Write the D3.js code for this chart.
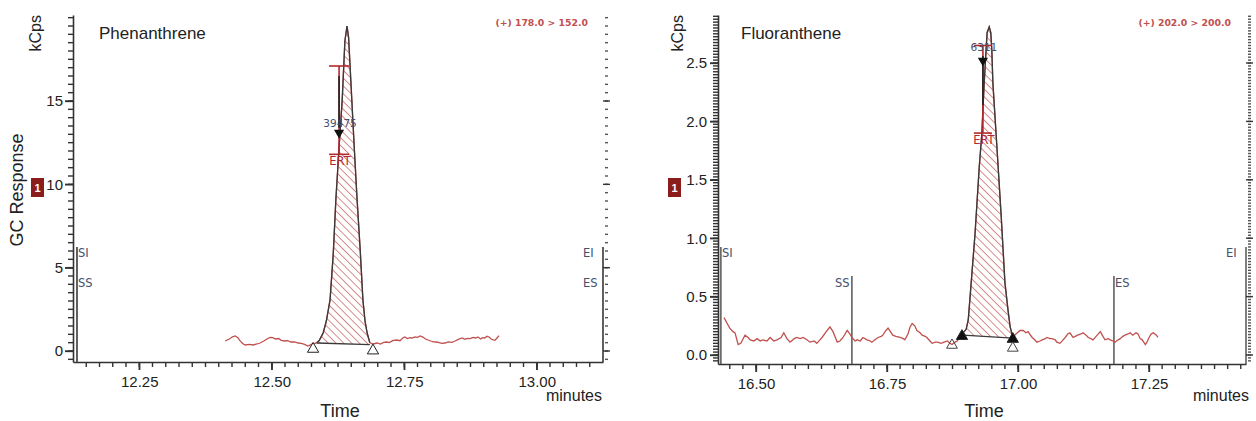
<!DOCTYPE html>
<html><head><meta charset="utf-8">
<script src="https://cdn.jsdelivr.net/npm/d3@7"></script>
<style>
body{margin:0;background:#fff;}
svg{display:block;font-family:"Liberation Sans",Arial,sans-serif;}
</style></head><body>
<svg id="c" width="1256" height="421"></svg>
<script>
// ---------------- DATA ----------------
// Phenanthrene (+) 178.0 > 152.0
const phenTime = [12.412,12.420,12.426,12.431,12.436,12.440,12.445,12.450,12.458,12.465,12.472,12.478,12.485,12.491,12.497,12.502,12.507,12.513,12.518,12.524,12.530,12.536,12.543,12.550,12.556,12.562,12.568,12.574,12.578,12.582,12.585,12.590,12.597,12.603,12.610,12.616,12.621,12.627,12.633,12.638,12.642,12.645,12.651,12.656,12.661,12.667,12.672,12.676,12.680,12.685,12.690,12.695,12.699,12.705,12.711,12.717,12.722,12.728,12.736,12.742,12.747,12.751,12.756,12.761,12.765,12.770,12.775,12.780,12.786,12.790,12.795,12.800,12.805,12.810,12.816,12.821,12.827,12.833,12.840,12.846,12.852,12.859,12.864,12.869,12.874,12.880,12.885,12.889,12.894,12.898,12.902,12.906,12.910,12.914,12.918,12.921,12.925,12.929];
const phenResp = [0.60,0.72,0.85,0.90,0.80,0.62,0.45,0.36,0.40,0.36,0.42,0.48,0.60,0.72,0.82,0.80,0.72,0.75,0.64,0.60,0.62,0.54,0.55,0.48,0.46,0.40,0.30,0.38,0.45,0.46,0.50,0.65,1.08,1.80,3.07,5.80,9.10,12.2,15.1,18.6,19.5,18.8,15.1,12.0,9.10,6.00,3.07,1.80,1.08,0.50,0.42,0.45,0.48,0.42,0.52,0.54,0.50,0.62,0.66,0.62,0.78,0.84,0.75,0.80,0.78,0.85,0.82,0.90,0.82,0.72,0.66,0.60,0.55,0.54,0.50,0.46,0.48,0.55,0.52,0.60,0.70,0.78,0.70,0.76,0.74,0.82,0.78,0.84,0.72,0.80,0.78,0.88,0.84,0.72,0.66,0.64,0.78,0.92];
const phenPeakWindow = [12.585, 12.685];
const phenBaseline = [0.48, 0.38];
const phenMarkTimes = [12.578, 12.691];
const phenErtTime = 12.627;
const phenErtRange = [17.1, 11.8];
const phenApex = [12.627, 13.1];
const phenApexLabel = "39475";
const phenXTicks = [12.25, 12.50, 12.75, 13.00];
const phenXLabels = ["12.25", "12.50", "12.75", "13.00"];
const phenYTicks = [0, 5, 10, 15];
const phenYLabels = ["0", "5", "10", "15"];
const phenEventLabels = ["SI", "SS", "EI", "ES"];
const phenEventTimes = [12.1325, 12.1325, 13.125, 13.125];

// Fluoranthene (+) 202.0 > 200.0
const fluorTime = [16.439,16.445,16.450,16.456,16.460,16.466,16.471,16.479,16.485,16.489,16.496,16.502,16.508,16.513,16.521,16.527,16.534,16.540,16.548,16.553,16.559,16.565,16.573,16.578,16.584,16.590,16.597,16.603,16.611,16.616,16.622,16.626,16.634,16.641,16.647,16.655,16.660,16.666,16.674,16.679,16.683,16.689,16.693,16.699,16.704,16.712,16.718,16.721,16.727,16.733,16.739,16.742,16.748,16.752,16.758,16.761,16.767,16.775,16.781,16.784,16.790,16.794,16.798,16.803,16.807,16.813,16.817,16.823,16.826,16.832,16.836,16.842,16.847,16.853,16.859,16.865,16.870,16.874,16.880,16.884,16.889,16.895,16.901,16.905,16.908,16.918,16.926,16.931,16.935,16.939,16.941,16.945,16.948,16.950,16.952,16.960,16.968,16.975,16.981,16.985,16.990,16.996,17.004,17.010,17.015,17.019,17.027,17.032,17.036,17.042,17.046,17.052,17.055,17.061,17.065,17.071,17.074,17.080,17.086,17.090,17.095,17.099,17.105,17.109,17.114,17.120,17.124,17.130,17.134,17.139,17.143,17.149,17.157,17.162,17.166,17.172,17.176,17.181,17.185,17.191,17.195,17.200,17.204,17.210,17.214,17.219,17.225,17.229,17.233,17.237,17.243,17.246,17.250,17.254,17.258,17.264,17.267];
const fluorResp = [0.32,0.27,0.23,0.20,0.19,0.09,0.10,0.17,0.15,0.13,0.12,0.14,0.12,0.13,0.12,0.15,0.12,0.13,0.15,0.19,0.14,0.11,0.14,0.15,0.14,0.15,0.13,0.11,0.12,0.10,0.13,0.15,0.20,0.24,0.20,0.11,0.12,0.15,0.21,0.18,0.15,0.12,0.13,0.12,0.15,0.13,0.12,0.11,0.13,0.15,0.16,0.17,0.21,0.23,0.19,0.17,0.16,0.15,0.14,0.13,0.18,0.24,0.27,0.25,0.21,0.19,0.17,0.16,0.15,0.12,0.10,0.11,0.11,0.10,0.11,0.12,0.10,0.09,0.11,0.12,0.15,0.19,0.22,0.30,0.47,1.04,1.61,1.90,2.29,2.61,2.76,2.81,2.76,2.61,2.33,1.76,1.18,0.62,0.38,0.24,0.15,0.18,0.21,0.21,0.19,0.20,0.15,0.13,0.11,0.12,0.13,0.14,0.15,0.14,0.14,0.13,0.11,0.10,0.13,0.15,0.18,0.19,0.15,0.16,0.17,0.18,0.19,0.17,0.15,0.14,0.13,0.16,0.20,0.16,0.13,0.14,0.13,0.12,0.11,0.13,0.14,0.16,0.17,0.18,0.19,0.17,0.19,0.18,0.14,0.13,0.09,0.11,0.15,0.18,0.19,0.17,0.15];
const fluorPeakWindow = [16.895, 16.990];
const fluorBaseline = [0.17, 0.145];
const fluorMarkTimes = [16.893, 16.990];
const fluorCrossTimes = [16.874, 16.990];
const fluorErtTime = 16.933;
const fluorErtRange = [2.65, 1.90];
const fluorApex = [16.933, 2.52];
const fluorApexLabel = "6311";
const fluorXTicks = [16.50, 16.75, 17.00, 17.25];
const fluorXLabels = ["16.50", "16.75", "17.00", "17.25"];
const fluorYTicks = [0, 0.5, 1.0, 1.5, 2.0, 2.5];
const fluorYLabels = ["0.0", "0.5", "1.0", "1.5", "2.0", "2.5"];
const fluorEventLabels = ["SI", "SS", "ES", "EI"];
const fluorEventTimes = [16.433, 16.683, 17.183, 17.435];

// ---------------- DRAW ----------------
const svg = d3.select("#c");
const RED = "#c0504d", ERTRED = "#b3282d", AX = "#333", LBL = "#44506e";

const defs = svg.append("defs");
defs.append("pattern").attr("id","hatch").attr("patternUnits","userSpaceOnUse")
  .attr("width",5.5).attr("height",5.5).attr("patternTransform","rotate(-45)")
  .append("path").attr("d","M0,0V5.5")
  .attr("stroke",RED).attr("stroke-width",1.3);

// tick marks as small filled rects, positioned by the scales
function ticks(g, scale, values, orient, pos, len, color, w){
  g.append("g").selectAll("rect").data(values).join("rect")
    .attr("x", d => orient === "v" ? Math.min(pos, pos + len) : scale(d) - w/2)
    .attr("y", d => orient === "v" ? scale(d) - w/2 : Math.min(pos, pos + len))
    .attr("width", orient === "v" ? Math.abs(len) : w)
    .attr("height", orient === "v" ? w : Math.abs(len))
    .attr("fill", color);
}

function drawPanel(o){
  const x = d3.scaleLinear().domain(o.xDomain).range([o.left, o.right]);
  const y = d3.scaleLinear().domain(o.yDomain).range([o.bottom, o.top]);
  const g = svg.append("g");
  const data = o.time.map((t,i)=>({t, v:o.resp[i]}));

  const styleAxis = s => {
    s.selectAll("path.domain").attr("stroke",AX).attr("stroke-width",1.6);
    s.selectAll(".tick line").attr("stroke",AX).attr("stroke-width",1.3);
    s.selectAll("text").attr("fill","#222").attr("font-size",15).attr("font-family","Liberation Sans, Arial, sans-serif");
  };
  g.append("g").attr("transform",`translate(0,${o.bottom})`)
    .call(d3.axisBottom(x).tickValues(o.xTicks).tickFormat((d,i)=>o.xLabels[i]).tickSize(8).tickPadding(6).tickSizeOuter(0))
    .call(styleAxis);
  g.append("g").attr("transform",`translate(${o.left},0)`)
    .call(d3.axisLeft(y).tickValues(o.yTicks).tickFormat((d,i)=>o.yLabels[i]).tickSize(8).tickPadding(o.yPad).tickSizeOuter(0))
    .call(styleAxis);

  // event lines
  o.eventLabels.forEach((lab,i)=>{
    const ex = x(o.eventTimes[i]);
    g.append("line").attr("x1",ex).attr("x2",ex).attr("y1",o.eventTop[i]).attr("y2",o.bottom)
      .attr("stroke","#555").attr("stroke-width",1.5);
    g.append("text").attr("x",ex+o.eventDx[i]).attr("y",o.eventLabelY[i]).attr("dy","0.35em")
      .attr("font-family","DejaVu Sans, sans-serif").attr("font-size",11.5).attr("fill",LBL).text(lab);
  });

  // hatched peak area
  const [ps,pe] = o.peakWindow;
  const baseAt = d3.scaleLinear().domain(o.peakWindow).range(o.baseline);
  const pk = data.filter(d=>d.t>=ps-1e-9 && d.t<=pe+1e-9);
  g.append("path").datum(pk).attr("fill","url(#hatch)")
    .attr("d", d3.area().x(d=>x(d.t)).y0(d=>y(baseAt(d.t))).y1(d=>y(d.v)));
  const line = d3.line().x(d=>x(d.t)).y(d=>y(d.v));
  g.append("path").datum(data).attr("fill","none").attr("stroke",RED).attr("stroke-width",1.3).attr("d",line);
  g.append("path").datum(pk).attr("fill","none").attr("stroke","#3a3a3a").attr("stroke-width",1.3).attr("d",line);
  g.append("line").attr("x1",x(ps)).attr("x2",x(pe)).attr("y1",y(o.baseline[0])).attr("y2",y(o.baseline[1]))
    .attr("stroke","#3a3a3a").attr("stroke-width",1.3);

  // markers
  const tri = d3.symbol().type(d3.symbolTriangle).size(55);
  o.markTimes.forEach(t=>{
    const bx = x(t), by = y(baseAt(Math.min(Math.max(t,ps),pe)));
    g.append("path").attr("d",tri()).attr("transform",`translate(${bx},${by+o.markDy})`)
      .attr("fill",o.markFill).attr("stroke","#222").attr("stroke-width",1);
  });
  (o.crossTimes||[]).forEach(t=>{
    const bx = x(t), by = y(baseAt(Math.min(Math.max(t,ps),pe)));
    const cy = by + 10;
    g.append("path").attr("d",d3.symbol().type(d3.symbolTriangle).size(50)()).attr("transform",`translate(${bx},${cy})`)
      .attr("fill","none").attr("stroke","#444").attr("stroke-width",1);
    g.append("path").attr("d",d3.symbol().type(d3.symbolTimes).size(60)()).attr("transform",`translate(${bx},${cy+1})`)
      .attr("fill","#444");
  });

  // ERT bracket
  const ex = x(o.ertTime), et = y(o.ertRange[0]), eb = y(o.ertRange[1]);
  g.append("line").attr("x1",ex).attr("x2",ex).attr("y1",et).attr("y2",eb).attr("stroke",ERTRED).attr("stroke-width",1.6);
  [et,eb].forEach(yy=>g.append("line").attr("x1",ex-o.capW).attr("x2",ex+o.capW).attr("y1",yy).attr("y2",yy)
      .attr("stroke",ERTRED).attr("stroke-width",1.6));
  g.append("line").attr("x1",ex).attr("x2",ex).attr("y1",y(o.blackSeg[0])).attr("y2",y(o.blackSeg[1]))
    .attr("stroke","#222").attr("stroke-width",1.6);
  g.append("text").attr("x",ex+1).attr("y",eb+11).attr("text-anchor","middle")
    .attr("font-family","DejaVu Sans, sans-serif").attr("font-size",11.5).attr("fill",ERTRED).text("ERT");
  const ax = x(o.apex[0]), ay = y(o.apex[1]);
  g.append("path").attr("d",d3.symbol().type(d3.symbolTriangle).size(45)()).attr("transform",`translate(${ax},${ay}) rotate(180)`)
    .attr("fill","#111");
  g.append("text").attr("x",ax+1).attr("y",ay-o.apexLabelDy).attr("text-anchor","middle")
    .attr("font-family","DejaVu Sans, sans-serif").attr("font-size",10.5).attr("fill",LBL).text(o.apexLabel);

  // texts
  g.append("text").attr("x",o.right-15).attr("y",26).attr("text-anchor","end")
    .attr("font-family","DejaVu Sans, sans-serif").attr("font-weight","bold").attr("font-size",9.3).attr("fill",RED).text(o.ion);
  g.append("text").attr("x",o.left+o.nameDx).attr("y",39).attr("font-size",17).attr("fill","#222").text(o.name);
  g.append("text").attr("transform",`translate(${o.left-o.kcpsDx},15) rotate(-90)`).attr("text-anchor","end")
    .attr("dominant-baseline","central").attr("font-size",16).attr("fill","#222").text("kCps");
  if (o.yTitle) g.append("text").attr("transform",`translate(17,190) rotate(-90)`).attr("text-anchor","middle")
    .attr("dominant-baseline","central").attr("font-size",18).attr("fill","#222").text(o.yTitle);
  g.append("text").attr("x",(o.left+o.right)/2+2).attr("y",417).attr("text-anchor","middle").attr("font-size",18).attr("fill","#222").text("Time");
  g.append("text").attr("x",o.minutesX).attr("y",401).attr("text-anchor","end").attr("font-size",16).attr("fill","#222").text("minutes");
  g.append("rect").attr("x",o.boxX).attr("y",178).attr("width",13).attr("height",19).attr("fill","#8b1c1c");
  g.append("text").attr("x",o.boxX+6.5).attr("y",192).attr("text-anchor","middle").attr("font-size",11).attr("font-weight","bold").attr("fill","#fff").text("1");

  // tick marks (filled rects) on top
  ticks(g, x, o.xMinor, "h", o.bottom, 5, AX, 1.4);
  ticks(g, x, o.xTicks, "h", o.bottom, 8, AX, 1.4);
  ticks(g, y, o.yMinor, "v", o.left, -5, AX, 1.4);
  ticks(g, y, o.yTicks, "v", o.left, -8, AX, 1.4);
  ticks(g, y, o.yRightMinor, "v", o.right+2, 3, "#555", 1.4);
  ticks(g, y, o.yTicks, "v", o.right, 7, AX, 1.4);
}

const r = (a,b,s)=>d3.range(0, Math.round((b-a)/s)+1).map(i=>+(a+i*s).toFixed(4));

drawPanel({
  time: phenTime, resp: phenResp, name: "Phenanthrene", ion: "(+) 178.0 > 152.0", yTitle: "GC Response",
  left: 73, right: 603, top: 15, bottom: 362,
  xDomain: [12.125, 13.125], yDomain: [-0.66, 20.16],
  xTicks: phenXTicks, xLabels: phenXLabels, xMinor: r(12.15, 13.1, 0.025),
  yTicks: phenYTicks, yLabels: phenYLabels, yMinor: r(-0.5, 20, 0.5), yRightMinor: r(-0.5, 20, 0.5), yPad: 2,
  eventLabels: phenEventLabels, eventTimes: phenEventTimes, eventTop: [247,247,247,247],
  eventDx: [1,1,-20,-20], eventLabelY: [253,283,253,283],
  peakWindow: phenPeakWindow, baseline: phenBaseline, markTimes: phenMarkTimes, markFill: "#fff", markDy: 6,
  ertTime: phenErtTime, ertRange: phenErtRange, capW: 10, blackSeg: [16.5, 13.4],
  apex: phenApex, apexLabel: phenApexLabel, apexLabelDy: 6,
  nameDx: 26, kcpsDx: 38, minutesX: 602, boxX: 31
});

drawPanel({
  time: fluorTime, resp: fluorResp, name: "Fluoranthene", ion: "(+) 202.0 > 200.0",
  left: 718, right: 1246, top: 15, bottom: 364,
  xDomain: [16.4275, 17.435], yDomain: [-0.077, 2.911],
  xTicks: fluorXTicks, xLabels: fluorXLabels, xMinor: r(16.45, 17.425, 0.025),
  yTicks: fluorYTicks, yLabels: fluorYLabels, yMinor: r(-0.05, 2.9, 0.025), yRightMinor: r(-0.05, 2.9, 0.025), yPad: 3,
  eventLabels: fluorEventLabels, eventTimes: fluorEventTimes, eventTop: [247,276,276,247],
  eventDx: [1,-17,1,-20], eventLabelY: [253,283,283,253],
  peakWindow: fluorPeakWindow, baseline: fluorBaseline, markTimes: fluorMarkTimes, markFill: "#111", markDy: 1,
  crossTimes: fluorCrossTimes,
  ertTime: fluorErtTime, ertRange: fluorErtRange, capW: 9, blackSeg: [2.56, 2.14],
  apex: fluorApex, apexLabel: fluorApexLabel, apexLabelDy: 10,
  nameDx: 23, kcpsDx: 41, minutesX: 1249, boxX: 668
});
</script>
</body></html>
